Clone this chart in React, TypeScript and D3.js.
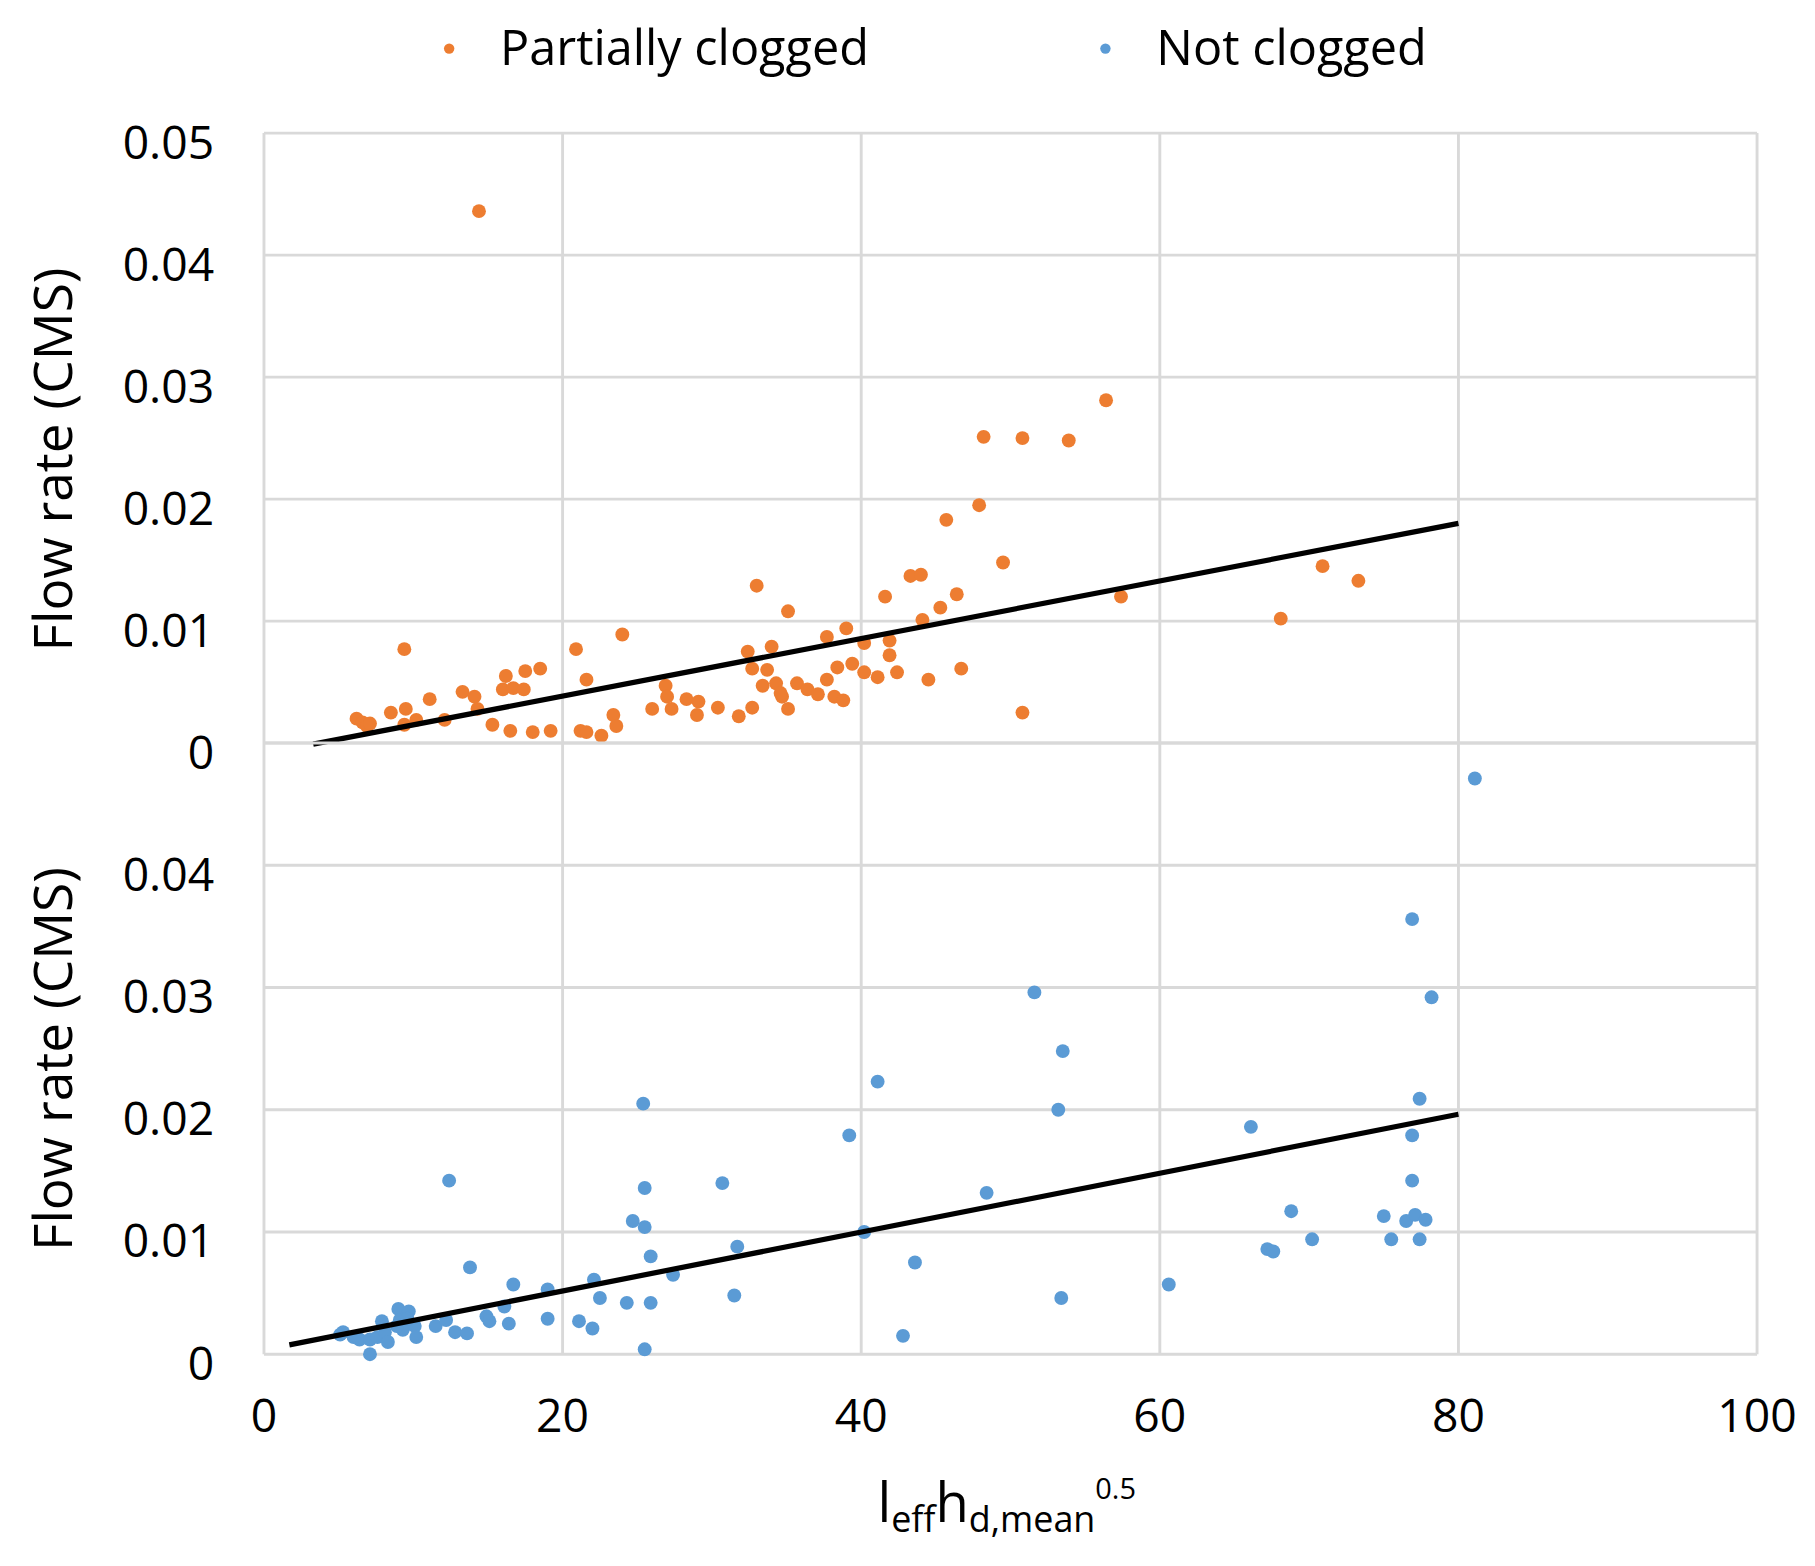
import React from 'react';
import * as d3 from 'd3';

// legend / series
const seriesNames = ['Partially clogged', 'Not clogged'];
const seriesColors = ['#ED7D31', '#5B9BD5'];

// ticks
const xTicks = [0, 20, 40, 60, 80, 100];
const yTicksTop = [0, 0.01, 0.02, 0.03, 0.04, 0.05];
const yTicksBottom = [0, 0.01, 0.02, 0.03, 0.04];

// [l_eff * h_d,mean^0.5, flow rate (CMS)]
const partiallyClogged: [number, number][] = [
  [14.4, 0.0436], [9.4, 0.0077], [6.2, 0.002], [6.6, 0.0017], [6.9, 0.0014], [7.1, 0.0016],
  [8.5, 0.0025], [9.5, 0.0028], [9.4, 0.0015], [10.2, 0.0019], [11.1, 0.0036], [12.1, 0.0019],
  [13.3, 0.0042], [14.1, 0.0038], [14.3, 0.0028], [15.3, 0.0015], [16.2, 0.0055], [16.0, 0.0044],
  [16.7, 0.0045], [17.4, 0.0044], [17.5, 0.0059], [18.5, 0.0061], [16.5, 0.001], [18.0, 0.0009],
  [19.2, 0.001], [20.9, 0.0077], [21.6, 0.0052], [24.0, 0.0089], [21.2, 0.001], [21.6, 0.0009],
  [22.6, 0.0006], [23.4, 0.0023], [23.6, 0.0014], [26.0, 0.0028], [26.9, 0.0047], [27.0, 0.0038],
  [27.3, 0.0028], [28.3, 0.0036], [29.0, 0.0023], [29.1, 0.0034], [30.4, 0.0029], [31.8, 0.0022],
  [32.7, 0.0029], [32.4, 0.0075], [34.0, 0.0079], [35.1, 0.0108], [33.0, 0.0129], [32.7, 0.0061],
  [33.7, 0.006], [33.4, 0.0047], [34.3, 0.0049], [34.7, 0.0038], [35.1, 0.0028], [35.7, 0.0049],
  [36.4, 0.0044], [37.1, 0.004], [37.7, 0.0052], [38.2, 0.0038], [38.8, 0.0035], [38.4, 0.0062],
  [39.4, 0.0065], [40.2, 0.0058], [41.1, 0.0054], [34.6, 0.0041], [37.7, 0.0087], [39.0, 0.0094],
  [40.2, 0.0082], [41.9, 0.0084], [41.9, 0.0072], [41.6, 0.012], [43.3, 0.0137], [44.0, 0.0138],
  [44.1, 0.0101], [45.3, 0.0111], [46.4, 0.0122], [42.4, 0.0058], [44.5, 0.0052], [46.7, 0.0061],
  [49.5, 0.0148], [57.4, 0.012], [50.8, 0.0025], [45.7, 0.0183], [47.9, 0.0195], [48.2, 0.0251],
  [50.8, 0.025], [53.9, 0.0248], [56.4, 0.0281], [68.1, 0.0102], [70.9, 0.0145], [73.3, 0.0133],
];

const notClogged: [number, number][] = [
  [5.3, 0.0018], [5.1, 0.0016], [6.0, 0.0014], [6.4, 0.0012], [7.1, 0.0012], [7.6, 0.0014],
  [7.9, 0.0027], [8.1, 0.0018], [8.3, 0.001], [7.1, 0.0], [9.0, 0.0037], [9.7, 0.0035],
  [9.1, 0.0028], [9.8, 0.0025], [9.3, 0.002], [10.1, 0.0023], [10.2, 0.0014], [8.9, 0.0023],
  [9.6, 0.0029], [11.5, 0.0023], [12.2, 0.0028], [12.8, 0.0018], [13.6, 0.0017], [12.4, 0.0142],
  [13.8, 0.0071], [14.9, 0.0031], [15.1, 0.0027], [16.7, 0.0057], [16.1, 0.0039], [16.4, 0.0025],
  [19.0, 0.0053], [19.0, 0.0029], [21.1, 0.0027], [22.0, 0.0021], [22.1, 0.0061], [22.5, 0.0046],
  [24.3, 0.0042], [24.7, 0.0109], [25.5, 0.0104], [25.5, 0.0136], [25.4, 0.0205], [25.9, 0.008],
  [25.9, 0.0042], [25.5, 0.0004], [27.4, 0.0065], [30.7, 0.014], [31.7, 0.0088], [31.5, 0.0048],
  [39.2, 0.0179], [41.1, 0.0223], [40.2, 0.01], [43.6, 0.0075], [42.8, 0.0015], [48.4, 0.0132],
  [51.6, 0.0296], [53.5, 0.0248], [53.2, 0.02], [53.4, 0.0046], [60.6, 0.0057], [66.1, 0.0186],
  [67.2, 0.0086], [67.6, 0.0084], [68.8, 0.0117], [70.2, 0.0094], [75.0, 0.0113], [75.5, 0.0094],
  [76.5, 0.0109], [77.1, 0.0114], [77.8, 0.011], [77.4, 0.0094], [76.9, 0.0142], [76.9, 0.0179],
  [77.4, 0.0209], [78.2, 0.0292], [76.9, 0.0356], [81.1, 0.0471],
];

// linear trendlines: slope, intercept, x start, x end
const trendPartial = [0.000236, -0.00087, 3.3, 80];
const trendNot = [0.000241, 0.00035, 1.7, 80];

const W = 1568;
const H = 1353;
const FONT = '"Open Sans", "Noto Sans", sans-serif';
const GRID = '#d9d9d9';

const x = d3.scaleLinear().domain([0, 100]).range([228, 1518]);
const yTop = d3.scaleLinear().domain([0, 0.05]).range([642, 115]);
const yBottom = d3.scaleLinear().domain([0, 0.05]).range([1170, 642]);

const fmt = (v: number) => (v === 0 ? '0' : v.toFixed(2));

function Panel({ y, data, color, trend, ticks, title, titleY }: {
  y: d3.ScaleLinear<number, number>;
  data: [number, number][];
  color: string;
  trend: number[];
  ticks: number[];
  title: string;
  titleY: number;
}) {
  const [slope, icpt, x0, x1] = trend;
  const line = d3.line<number>()
    .x(d => x(d))
    .y(d => y(slope * d + icpt));
  const [yb, yt] = y.range();
  return (
    <g>
      {yTicksTop.map(t => (
        <line key={'h' + t} x1={x(0)} x2={x(100)} y1={y(t)} y2={y(t)} stroke={GRID} strokeWidth={2.5} />
      ))}
      {xTicks.map(t => (
        <line key={'v' + t} x1={x(t)} x2={x(t)} y1={yb} y2={yt} stroke={GRID} strokeWidth={2.5} />
      ))}
      {ticks.map(t => (
        <text key={'l' + t} x={185} y={y(t) + 22} textAnchor="end" fontSize={40} fill="#000">
          {fmt(t)}
        </text>
      ))}
      <text transform={`translate(62,${titleY}) rotate(-90)`} textAnchor="middle" fontSize={46} fill="#000">
        {title}
      </text>
      {data.map((d, i) => (
        <circle key={i} cx={x(d[0])} cy={y(d[1])} r={6} fill={color} />
      ))}
      <path d={line([x0, x1]) || ''} stroke="#000" strokeWidth={4.5} fill="none" />
    </g>
  );
}

export default function App() {
  return (
    <svg
      width={1815}
      height={1566}
      viewBox={`0 0 ${W} ${H}`}
      style={{ position: 'absolute', left: 0, top: 0, background: '#fff', fontFamily: FONT }}
    >
      <rect x={0} y={0} width={W} height={H} fill="#fff" />
      {/* legend */}
      {seriesNames.map((name, i) => (
        <g key={name} transform={`translate(${[388, 955][i]},42)`}>
          <circle cx={0} cy={0} r={4.5} fill={seriesColors[i]} />
          <text x={44} y={14} fontSize={42} fill="#000">{name}</text>
        </g>
      ))}

      <Panel y={yTop} data={partiallyClogged} color={seriesColors[0]} trend={trendPartial} ticks={yTicksTop} title="Flow rate (CMS)" titleY={397} />
      <Panel y={yBottom} data={notClogged} color={seriesColors[1]} trend={trendNot} ticks={yTicksBottom} title="Flow rate (CMS)" titleY={915} />

      {/* x axis labels */}
      {xTicks.map(t => (
        <text key={t} x={x(t)} y={1237} textAnchor="middle" fontSize={40} fill="#000">{t}</text>
      ))}
      <text x={758} y={1315} fontSize={47} fill="#000">
        <tspan>l</tspan>
        <tspan fontSize={31} dy={9}>eff</tspan>
        <tspan dy={-9}>h</tspan>
        <tspan fontSize={31} dy={9}>d,mean</tspan>
        <tspan fontSize={25} dy={-29}>0.5</tspan>
      </text>
    </svg>
  );
}
